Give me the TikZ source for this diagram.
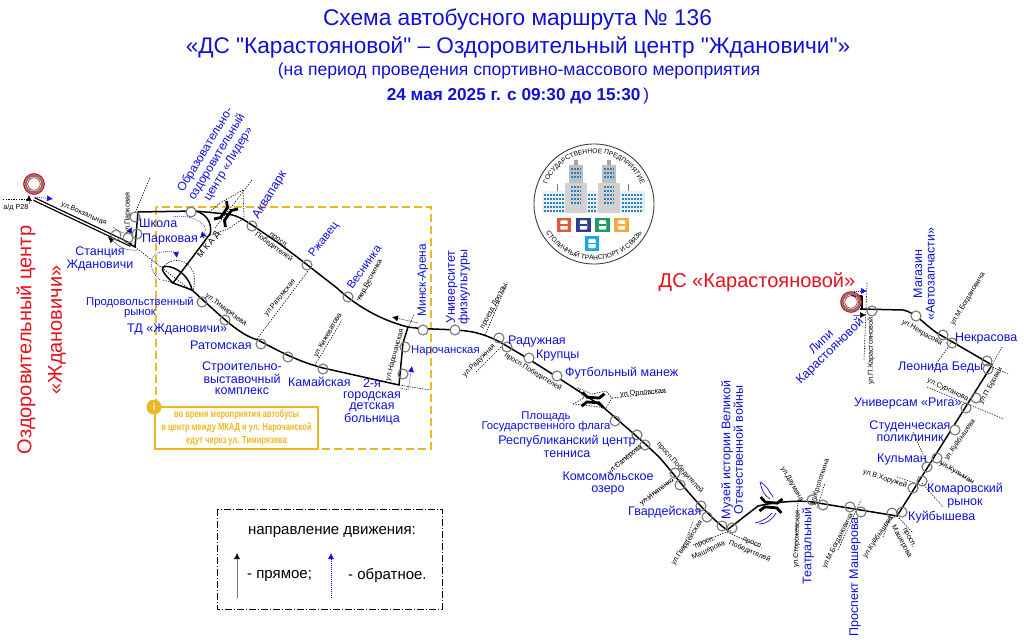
\documentclass[tikz,border=0pt]{standalone}
\usepackage{fontspec}
\setmainfont{Liberation Sans}
\newfontfamily\titlefont{Liberation Sans}
\usepackage{tikz}
\usetikzlibrary{arrows.meta,decorations.text}

\definecolor{stopblue}{HTML}{1010D8}
\definecolor{termred}{HTML}{E8101A}
\definecolor{ringgray}{HTML}{777777}
\definecolor{zoneyellow}{HTML}{F0B820}
\definecolor{winblue}{HTML}{2F7FB8}
\definecolor{tilered}{HTML}{E2583A}
\definecolor{tilenavy}{HTML}{2E3F8F}
\definecolor{tilegreen}{HTML}{1E9A5B}
\definecolor{tileorange}{HTML}{F4A93C}
\definecolor{tilecyan}{HTML}{1AA7E8}

\tikzset{
	route/.style={line width=1.5pt,black,line join=round},
	streetline/.style={black,line width=.6pt,dash pattern=on 1.3pt off 1.3pt},
	stop/.style={circle,draw=ringgray,line width=1.1pt,fill=white,inner sep=0pt,minimum size=10pt},
	stopopen/.style={circle,draw=ringgray,line width=1.1pt,inner sep=0pt,minimum size=10pt},
	stopname/.style={text=stopblue,inner sep=0pt,align=center,font=\fontsize{12.5}{12.5}\selectfont},
	stopsmall/.style={stopname,font=\fontsize{11.3}{10.5}\selectfont},
	stoptight/.style={stopname,font=\fontsize{12.5}{11}\selectfont},
	street/.style={text=black,inner sep=0pt,align=center,font=\fontsize{7.2}{8.8}\selectfont},
	backarrow/.style={stopblue,line width=.5pt,dash pattern=on 1pt off 1pt,-{Latex[length=6pt,width=6pt]}},
	mainarrow/.style={ringgray,line width=.6pt,-{Latex[length=6pt,width=6pt,color=black]}},
	bridge/.style={line width=2.8pt,black,line join=miter},
	bigred/.style={text=termred,inner sep=0pt,align=center,font=\fontsize{20}{30}\selectfont},
	tile/.style={minimum size=14.5pt,inner sep=0pt},
	icon/.style={draw=white,fill=white,rounded corners=1pt,minimum width=7pt,minimum height=9pt,inner sep=0pt},
	windows/.style={winblue,line width=2.6pt,dash pattern=on 2.1pt off .9pt},
	titleline/.style={text=stopblue,inner sep=0pt}
}
\newcommand{\bridgemark}[3]{%
	\begin{scope}[shift={(#1,#2)},rotate=#3]
		\draw[bridge] (-11,-7) -- (-6,-2.4) -- (6,-2.4) -- (11,-7);
		\draw[bridge] (-11,7) -- (-6,2.4) -- (6,2.4) -- (11,7);
	\end{scope}}
\newcommand{\narrowline}[1]{\scalebox{.74}[1]{#1}}

\begin{document}
\begin{tikzpicture}[x=1pt,y=-1pt]
	\useasboundingbox (0,0) rectangle (1024,644);

	\node[titleline,font=\titlefont\fontsize{22.7}{22.7}\selectfont] (title1) at (517.5,20) {Схема автобусного маршрута № 136};
	\node[titleline,font=\titlefont\fontsize{22.6}{22.6}\selectfont] (title2) at (518,47) {«ДС "Карастояновой" – Оздоровительный центр "Ждановичи"»};
	\node[titleline,font=\fontsize{17.6}{17.6}\selectfont] (title3) at (519,71) {(на период проведения спортивно-массового мероприятия};
	\node[titleline,font=\fontsize{17.2}{17.2}\selectfont] (title4) at (518,96) {\textbf{24 мая 2025 г. с 09:30 до 15:30}\,)};

	\draw[zoneyellow,line width=1.6pt,dash pattern=on 8pt off 4pt] (156,207) rectangle (431,449);

	\draw[streetline] (3,199) -- (30,199);
	\draw[streetline] (150,178) -- (135,213);
	\draw[streetline] (135,247) -- (193,292);
	\draw[streetline] (252,180) -- (215,228);
	\draw[streetline] (243,190) -- (220,203) -- (208,213);
	\draw[streetline] (243,190) -- (244,218) -- (228,229) -- (202,238);
	\draw[streetline] (163,268) .. controls (168,258) and (185,258) .. (191,268) .. controls (196,275) and (195,283) .. (193,291);
	\draw[streetline] (163,280) -- (173,283);
	\draw[streetline] (257,339) -- (308,271);
	\draw[streetline] (315,365) -- (342,320);
	\draw[streetline] (357,300) -- (372,283);
	\draw[streetline] (414,315) -- (408,327);
	\draw[streetline] (399,385) -- (430,390);
	\draw[streetline] (485,335) -- (508,282);
	\draw[streetline] (476,372) -- (502,346);
	\draw[streetline] (573,404) -- (584,398) -- (578,388) -- (592,394) -- (606,391) -- (612,398) -- (606,408) -- (592,406) -- cycle;
	\draw[streetline] (612,398) -- (667,392);
	\draw[streetline] (612,468) -- (640,445);
	\draw[streetline] (640,503) -- (673,480);
	\draw[streetline] (693,522) -- (683,547);
	\draw[streetline] (693,545) -- (732,530);
	\draw[streetline] (727,532) -- (760,547);
	\draw[streetline] (798,500) -- (795,557);
	\draw[streetline] (817,508) -- (825,483);
	\draw[streetline] (838,550) -- (861,500);
	\draw[streetline] (883,537) -- (890,518);
	\draw[streetline] (897,516) -- (913,533);
	\draw[streetline] (897,477) -- (915,483);
	\draw[streetline] (922,483) -- (943,507);
	\draw[streetline] (913,432) -- (927,463);
	\draw[streetline] (940,463) -- (973,482);
	\draw[streetline] (927,387) -- (1004,419);
	\draw[streetline] (1002,347) -- (992,365);
	\draw[streetline] (988,365) -- (1008,374);
	\draw[streetline] (932,370) -- (953,340);
	\draw[streetline] (867,283) -- (864,360);

	\draw[route,line width=4pt] (34,199) -- (131,245);
	\draw[white,line width=1.4pt] (34,199) -- (131,245);
	\draw[route] (135,247) -- (128,243);
	\draw[route] (135,247) -- (138,212) -- (195,211) .. controls (210,214) and (212,228) .. (210,234) -- (173,283) .. controls (168,278) and (160,270) .. (163,267) .. controls (170,264) and (188,272) .. (192,290);
	\draw[route] (195,211) -- (226,214) .. controls (240,215) and (247,222) .. (277,242) .. controls (295,255) and (320,275) .. (337,288) .. controls (355,305) and (380,320) .. (408,327) .. controls (420,329) and (440,329) .. (455,330) .. controls (470,331) and (480,332) .. (500,342) -- (527,358) -- (557,377) -- (603,407) .. controls (620,422) and (645,443) .. (660,458) .. controls (675,475) and (700,510) .. (727,530) -- (758,506) .. controls (775,502) and (800,500) .. (812,502) -- (897,516) -- (992,365) -- (937,333) .. controls (925,325) and (915,312) .. (903,310) -- (860,309);
	\draw[route] (173,283) -- (192,290) .. controls (225,320) and (240,335) .. (258,340) .. controls (280,352) and (300,362) .. (323,368) -- (399,385) -- (403,343) -- (408,327);
	\draw[route] (862,300) -- (862,309);
	\draw[route] (851,296) -- (862,296) -- (862,301);

	\bridgemark{226}{214}{55}
	\bridgemark{593}{400}{-4}
	\bridgemark{771}{505}{-5}
	\draw[stopblue,line width=.7pt] (760,482) .. controls (762,491) and (764,495) .. (770,499);
	\draw[stopblue,line width=.7pt] (760,482) .. controls (768,486) and (769,492) .. (773,497);
	\draw[stopblue,line width=.7pt] (755,523) .. controls (763,521) and (768,518) .. (772,513);
	\draw[stopblue,line width=.7pt] (759,524) .. controls (766,524) and (772,520) .. (776,513);

	\draw[backarrow] (35,197) -- (53,199);
	\draw[backarrow] (113,227) .. controls (120,233) and (128,235) .. (132,227);
	\draw[backarrow] (173,217) .. controls (190,213) and (212,225) .. (200,238);
	\draw[backarrow] (160,280) .. controls (146,268) and (150,252) .. (162,252) .. controls (170,251) and (176,252) .. (177,258);
	\draw[backarrow] (400,388) -- (408,390) -- (412,366);
	\draw[backarrow] (854,291) -- (867,291);

	\draw[mainarrow] (137,250) .. controls (125,251) and (120,247) .. (108,237);
	\draw[mainarrow] (418,323) -- (392,317);
	\draw[mainarrow] (29,204) -- (29,195);
	\draw[mainarrow] (853,315) -- (866,315);

	\draw[termred,line width=1.3pt] (34,184) circle[radius=10.2pt];
	\draw[ringgray,line width=2.2pt] (34,184) circle[radius=8.4pt];
	\node[circle,draw=termred,fill=white,line width=.7pt,inner sep=0pt,minimum size=12.5pt] (termwest) at (34,184) {};
	\draw[termred,line width=1.3pt] (851,302) circle[radius=10.2pt];
	\draw[ringgray,line width=2.2pt] (851,302) circle[radius=8.4pt];
	\node[circle,draw=termred,fill=white,line width=.7pt,inner sep=0pt,minimum size=12.5pt] (termeast) at (851,302) {};

	\node[stopopen] (zhd1) at (116,235) {};
	\node[stopopen] (zhd2) at (128,238) {};
	\node[stopopen] (shk) at (135,217) {};
	\node[stopopen] (prk) at (137,234) {};
	\node[stop] (lider) at (191,212) {};
	\node[stopopen] (aqua) at (252,226) {};
	\node[stopopen] (rzh) at (307,265) {};
	\node[stopopen] (ves) at (348,297) {};
	\node[stop] (arena) at (423,330) {};
	\node[stop] (univ) at (455,330) {};
	\node[stopopen] (rad1) at (499,338) {};
	\node[stopopen] (rad2) at (507,347) {};
	\node[stop] (krp) at (529,358) {};
	\node[stop] (foot) at (557,376) {};
	\node[stopopen] (flag) at (615,421) {};
	\node[stopopen] (ten1) at (637,435) {};
	\node[stopopen] (ten2) at (645,445) {};
	\node[stopopen] (oz1) at (675,473) {};
	\node[stopopen] (oz2) at (680,485) {};
	\node[stopopen] (gv1) at (701,506) {};
	\node[stopopen] (gv2) at (707,517) {};
	\node[stopopen] (mz1) at (722,526) {};
	\node[stopopen] (mz2) at (732,528) {};
	\node[stopopen] (th1) at (812,500) {};
	\node[stopopen] (th2) at (823,505) {};
	\node[stopopen] (ms1) at (850,507) {};
	\node[stopopen] (ms2) at (861,512) {};
	\node[stopopen] (kb1) at (892,513) {};
	\node[stopopen] (kb2) at (902,512) {};
	\node[stopopen] (km1) at (913,488) {};
	\node[stopopen] (km2) at (922,481) {};
	\node[stopopen] (kl1) at (927,467) {};
	\node[stopopen] (kl2) at (937,458) {};
	\node[stop] (stud) at (955,430) {};
	\node[stopopen] (rg1) at (966,408) {};
	\node[stopopen] (rg2) at (976,398) {};
	\node[stopopen] (bd1) at (987,361) {};
	\node[stopopen] (bd2) at (988,369) {};
	\node[stopopen] (nk1) at (943,335) {};
	\node[stopopen] (nk2) at (952,343) {};
	\node[stop] (mag) at (916,316) {};
	\node[stopopen] (lip) at (872,311) {};
	\node[stopopen] (prod) at (202,302) {};
	\node[stopopen] (td) at (225,320) {};
	\node[stopopen] (rat) at (261,344) {};
	\node[stopopen] (str) at (288,357) {};
	\node[stopopen] (kam) at (323,369) {};
	\node[stopopen] (nar) at (405,347) {};
	\node[stopopen] (hosp) at (403,374) {};

	\node[bigred,rotate=90] (westa) at (26,340) {Оздоровительный центр};
	\node[bigred,rotate=90] (westb) at (57,330) {«Ждановичи»};
	\node[bigred] (eastname) at (757,282) {ДС «Карастояновой»};

	\node[stopname] (zhdname) at (100,259) {Станция\\Ждановичи};
	\node[stopname,anchor=west] (shkname) at (139,223) {Школа};
	\node[stopname,anchor=west] (prkname) at (142,239) {Парковая};
	\node[stopname,rotate=59,font=\fontsize{12}{13.5}\selectfont] (lidername) at (217,157) {Образовательно-\\оздоровительный\\центр «Лидер»};
	\node[stopname,rotate=58] (aquaname) at (270,195) {Аквапарк};
	\node[stopname,rotate=52,font=\fontsize{11.5}{11.5}\selectfont] (rzhname) at (324,240) {Ржавец};
	\node[stopname,rotate=55,font=\fontsize{11.5}{11.5}\selectfont] (vesname) at (364,267) {Веснинка};
	\node[stopname,rotate=90,font=\fontsize{11.8}{11.8}\selectfont] (arenaname) at (423,280) {Минск-Арена};
	\node[stopname,rotate=90] (univname) at (458,287) {Университет\\физкультуры};
	\node[stopname,anchor=west] (radname) at (508,341) {Радужная};
	\node[stopname,anchor=west] (krpname) at (536,355) {Крупцы};
	\node[stopname,anchor=west] (footname) at (565,373) {Футбольный манеж};
	\node[stopsmall,anchor=west] (narname) at (411,351) {Нарочанская};
	\node[stopsmall] (flagname) at (546,422) {Площадь\\Государственного флага};
	\node[stopname] (tenname) at (567,446.5) {Республиканский центр\\тенниса};
	\node[stopname] (ozname) at (608,483.5) {Комсомольское\\озеро};
	\node[stopname,anchor=west] (gvname) at (628,512) {Гвардейская};
	\node[stopname,rotate=90] (mzname) at (732,450) {Музей истории Великой\\Отечественной войны};
	\node[stopname,rotate=90] (thname) at (808,546) {Театральный};
	\node[stopname,rotate=90] (msname) at (855,577) {Проспект Машерова};
	\node[stopname,anchor=west] (kbname) at (908,517) {Куйбышева};
	\node[stopname] (kmname) at (965,495.5) {Комаровский\\рынок};
	\node[stopname,anchor=west] (klname) at (877,459) {Кульман};
	\node[stopname] (studname) at (910,431) {Студенческая\\поликлиник};
	\node[stopname,anchor=west] (rgname) at (854,403) {Универсам «Рига»};
	\node[stopname,anchor=west] (bdname) at (898,367) {Леонида Беды};
	\node[stopname,anchor=west] (nkname) at (955,338) {Некрасова};
	\node[stopname,rotate=90] (magname) at (924,274) {Магазин\\«Автозапчасти»};
	\node[stopname,rotate=44] (lipname) at (826,347) {Липи\\Карастояновой};
	\node[stopsmall] (prodname) at (140,307.5) {Продовольственный\\рынок};
	\node[stopname,anchor=west] (tdname) at (127,329) {ТД «Ждановичи»};
	\node[stopname,anchor=west] (ratname) at (190,345) {Ратомская};
	\node[stoptight] (strname) at (242,378) {Строительно-\\выставочный\\комплекс};
	\node[stopname,anchor=west] (kamname) at (288,382) {Камайская};
	\node[stoptight] (hospname) at (372,402) {2-я\\городская\\детская\\больница};

	\node[street] (p28) at (16,208) {а/д Р28};
	\node[street,rotate=-24] (vokz) at (84,214) {ул.Вокзальная};
	\node[street,rotate=90] (parkst) at (128,213) {ул.Парковая};
	\node[street,rotate=52,font=\fontsize{8.5}{9}\selectfont] (mkad) at (209,245) {М К А Д};
	\node[street,rotate=-36] (pob1) at (276,244) {просп.\\Победителей};
	\node[street,rotate=51] (ratst) at (280,298) {ул.Ратомская};
	\node[street,rotate=62] (vesst) at (370,280) {пер.Веснинка};
	\node[street,rotate=-37] (timst) at (226,310) {ул.Тимирязева};
	\node[street,rotate=60] (kizh) at (328,335) {ул.Кижеватова};
	\node[street,rotate=75] (narst) at (395,355) {ул.Нарочанская};
	\node[street,rotate=62] (drz) at (494,306) {проезд Дрозды};
	\node[street,rotate=45] (radst) at (479,361) {ул.Радужная};
	\node[street,rotate=-32] (pob2) at (533,372) {просп.Победителей};
	\node[street,rotate=5] (orl) at (643,393) {ул.Орловская};
	\node[street,rotate=40] (sap) at (625,460) {ул.Сапёрова};
	\node[street,rotate=-48] (pob3) at (680,468) {просп.Победителей};
	\node[street,rotate=38] (ipat) at (657,492) {ул.Ипатенко};
	\node[street,rotate=57] (gvst) at (687,543) {ул.Гвардейская};
	\node[street,rotate=25] (masher1) at (707,547) {просп.\\Машерова};
	\node[street,rotate=-23] (pob4) at (751,548) {просп.\\Победителей};
	\node[street,rotate=-60] (dauman) at (792,484) {ул.Даумана};
	\node[street,rotate=88] (storozh) at (797,539) {ул.Сторожевская};
	\node[street,rotate=72] (krop) at (820,482) {ул.Кропоткина};
	\node[street,rotate=63] (bog1) at (838,541) {ул.М.Богдановича};
	\node[street,rotate=56] (kbst1) at (878,537) {ул.Куйбышева};
	\node[street,rotate=-62] (masher2) at (905,540) {просп.\\Машерова};
	\node[street,rotate=-18] (hor) at (885,479) {ул.В.Хоружей};
	\node[street,rotate=90] (karst) at (871,351) {ул.П.Карастояновой};
	\node[street,rotate=-30] (nekst) at (922,333) {ул.Некрасова};
	\node[street,rotate=59] (bog2) at (968,299) {ул.М.Богдановича};
	\node[street,rotate=60] (brov) at (991,386) {ул.П.Бровки};
	\node[street,rotate=-26] (sur) at (948,390) {ул.Сурганова};
	\node[street,rotate=55] (kbst2) at (960,440) {ул.Куйбышева};
	\node[street,rotate=-30] (kul) at (957,473) {ул.Кульман};

	\node[draw=zoneyellow,fill=white,line width=1.8pt,minimum width=163pt,minimum height=42pt,inner sep=0pt,text=zoneyellow,align=center,font=\bfseries\fontsize{10.2}{13}\selectfont] (notice) at (236.5,428) {\narrowline{во время мероприятия автобусы}\\\narrowline{в центр между МКАД и ул. Нарочанской}\\\narrowline{едут через ул. Тимирязева}};
	\node[circle,fill=zoneyellow,text=white,inner sep=0pt,minimum size=15pt,font=\bfseries\fontsize{10}{10}\selectfont] (info) at (154,407) {i};

	\draw[black,line width=.9pt,dash pattern=on 7pt off 2pt on 1pt off 2pt] (217,509) rectangle (442,609);
	\node[inner sep=0pt,font=\fontsize{15}{15}\selectfont] (legendhead) at (332,532) {направление движения:};
	\node[inner sep=0pt,anchor=west,font=\fontsize{15}{15}\selectfont] (legendmain) at (247,576) {- прямое;};
	\node[inner sep=0pt,anchor=west,font=\fontsize{15}{15}\selectfont] (legendback) at (348,576) {- обратное.};
	\coordinate (mainfoot) at (237,598);
	\coordinate (maintop) at (237,553);
	\coordinate (backfoot) at (331,598);
	\coordinate (backtop) at (331,553);
	\draw[mainarrow] (mainfoot) -- (maintop);
	\draw[backarrow] (backfoot) -- (backtop);

	\draw[black!75,line width=.9pt,fill=white] (594,204) circle[radius=60pt];
	\path[decorate,decoration={text along path,text align=center,text={|\fontsize{6.6}{7}\selectfont|ГОСУДАРСТВЕННОЕ ПРЕДПРИЯТИЕ}}] plot[domain=158:22,samples=40] ({594+51*cos(\x)},{204-51*sin(\x)});
	\path[decorate,decoration={text along path,text align=center,text={|\fontsize{6.6}{7}\selectfont|СТОЛИЧНЫЙ ТРАНСПОРТ И СВЯЗЬ}}] plot[domain=205:335,samples=40] ({594+56*cos(\x)},{204-56*sin(\x)});

	\fill[winblue!12] (542,191) rectangle (565,213);
	\fill[winblue!12] (620,191) rectangle (645,213);
	\fill[winblue!12] (587,191) rectangle (598,213);
	\fill[black!18] (565,183) rectangle (587,213);
	\fill[black!18] (598,183) rectangle (620,213);
	\fill[black!25] (569,165) rectangle (583,183);
	\fill[black!25] (602,165) rectangle (616,183);
	\fill[black!35] (574,160) rectangle (578,165);
	\fill[black!35] (607,160) rectangle (611,165);
	\draw[black!55,line width=.7pt] (557,191) -- (557,184);
	\draw[black!55,line width=.7pt] (628,191) -- (628,184);
	\draw[windows] (544,195) -- (564,195) (544,199) -- (564,199) (544,203) -- (564,203) (544,207) -- (564,207) (544,211) -- (564,211);
	\draw[windows] (622,195) -- (643,195) (622,199) -- (643,199) (622,203) -- (643,203) (622,207) -- (643,207) (622,211) -- (643,211);
	\draw[windows] (588,195) -- (597,195) (588,199) -- (597,199) (588,203) -- (597,203) (588,207) -- (597,207) (588,211) -- (597,211);
	\draw[windows] (571,169) -- (581,169) (571,173) -- (581,173) (571,177) -- (581,177) (571,187) -- (581,187) (571,191) -- (581,191) (571,195) -- (581,195) (571,199) -- (581,199) (571,203) -- (581,203);
	\draw[windows] (604,169) -- (614,169) (604,173) -- (614,173) (604,177) -- (614,177) (604,187) -- (614,187) (604,191) -- (614,191) (604,195) -- (614,195) (604,199) -- (614,199) (604,203) -- (614,203);

	\node[tile,fill=tilered] (tilebus) at (564,225) {};
	\node[tile,fill=tilenavy] (tiletrol) at (583.5,225) {};
	\node[tile,fill=tilegreen] (tiletram) at (602.5,225) {};
	\node[tile,fill=tileorange] (tilevan) at (621.5,225) {};
	\node[tile,fill=tilecyan] (tilemetro) at (592,243.5) {};
	\node[icon] (iconbus) at (tilebus) {};
	\node[icon] (icontrol) at (tiletrol) {};
	\node[icon] (icontram) at (tiletram) {};
	\node[icon] (iconvan) at (tilevan) {};
	\node[icon] (iconmetro) at (tilemetro) {};
	\draw[tilered,line width=1.2pt] (iconbus.west) -- (iconbus.east);
	\draw[tilenavy,line width=1.2pt] (icontrol.west) -- (icontrol.east);
	\draw[tilegreen,line width=1.2pt] (icontram.west) -- (icontram.east);
	\draw[tileorange,line width=1.2pt] (iconvan.west) -- (iconvan.east);
	\draw[tilecyan,line width=1.2pt] (iconmetro.west) -- (iconmetro.east);
\end{tikzpicture}
\end{document}
